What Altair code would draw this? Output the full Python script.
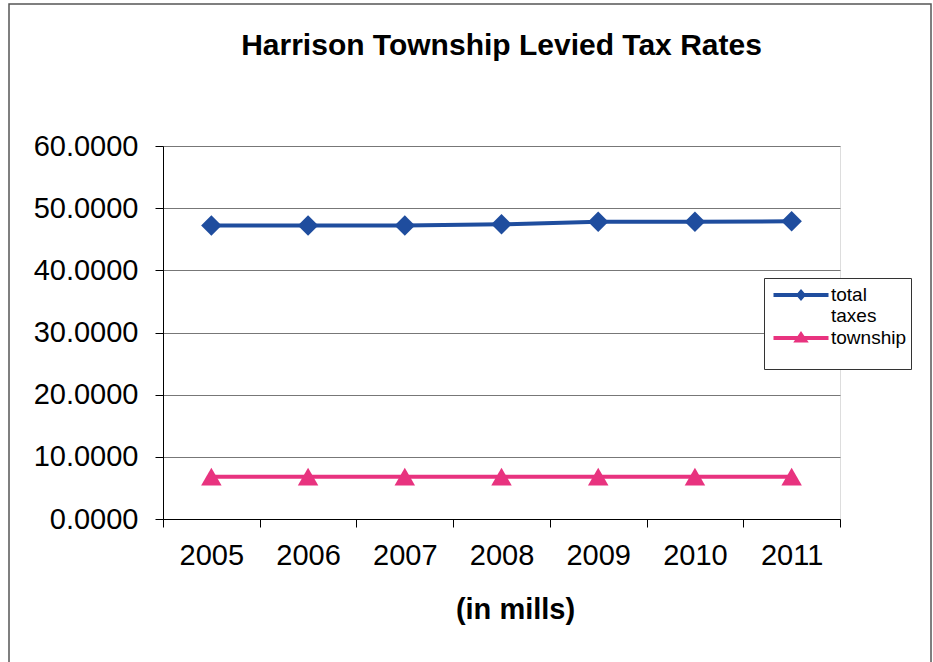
import altair as alt
import pandas as pd

years = ["2005", "2006", "2007", "2008", "2009", "2010", "2011"]
total_taxes = [47.2, 47.2, 47.2, 47.4, 47.8, 47.8, 47.9]
township = [6.8, 6.8, 6.8, 6.8, 6.8, 6.8, 6.8]
series_names = ["total taxes", "township"]
series_colors = ["#1f4d9e", "#e8337f"]

rows = []
for y, v in zip(years, total_taxes):
    rows.append({"year": y, "value": v, "series": series_names[0]})
for y, v in zip(years, township):
    rows.append({"year": y, "value": v, "series": series_names[1]})
df = pd.DataFrame(rows)

FONT = "Liberation Sans"
DIAMOND = "M-2.75,0L2.75,0M0,-0.3L0.25,0L0,0.3L-0.25,0Z"
TRIANGLE = "M-2.75,0L2.75,0M0,-0.35L0.4,0.25L-0.4,0.25Z"

color_scale = alt.Scale(domain=series_names, range=series_colors)

x_enc = alt.X(
    "year:N",
    title="(in mills)",
    sort=years,
    axis=alt.Axis(
        labelAngle=0, labelFontSize=29, labelFont=FONT, labelColor="black",
        titleFontSize=29, titleFont=FONT, titleFontWeight="bold", titleColor="black",
        titleX=352, titleAlign="center", titlePadding=25,
        tickBand="extent", ticks=True, tickSize=8, tickColor="black",
        domainColor="black", labelPadding=14, grid=False,
    ),
)
y_enc = alt.Y(
    "value:Q",
    title=None,
    scale=alt.Scale(domain=[0, 60], nice=False),
    axis=alt.Axis(
        values=[0, 10, 20, 30, 40, 50, 60], format=".4f",
        labelFontSize=29, labelFont=FONT, labelColor="black",
        tickSize=8, tickColor="black", domainColor="black", labelPadding=17,
        grid=True, gridColor="#777777", gridWidth=1,
    ),
)

lines = alt.Chart(df).mark_line(strokeWidth=4).encode(
    x=x_enc,
    y=y_enc,
    color=alt.Color("series:N", scale=color_scale, legend=None),
)

points = alt.Chart(df).mark_point(filled=True, opacity=1, size=420).encode(
    x=alt.X("year:N", sort=years),
    y="value:Q",
    color=alt.Color("series:N", scale=color_scale, legend=None),
    shape=alt.Shape("series:N", scale=alt.Scale(domain=series_names, range=["diamond", "triangle-up"]), legend=None),
)

legend_cfg = alt.Legend(
    title=" ", titleOrient="bottom", titleFontSize=12, titlePadding=4,
    orient="none", legendX=601, legendY=132,
    direction="vertical",
    labelFont=FONT, labelFontSize=19, labelColor="black",
    symbolSize=400, symbolStrokeWidth=4, symbolOpacity=1,
    symbolOffset=20, labelOffset=18,
    strokeColor="#333333", fillColor="white", padding=5,
    labelExpr="datum.label == 'total taxes' ? ['total', 'taxes'] : datum.label",
    rowPadding=-1,
)

legend_layer = alt.Chart(df).transform_filter("false").mark_point(
    filled=True, opacity=1, strokeWidth=4
).encode(
    x=alt.X("year:N", sort=years),
    y="value:Q",
    color=alt.Color("series:N", scale=color_scale, legend=legend_cfg),
    stroke=alt.Stroke("series:N", scale=color_scale, legend=legend_cfg),
    shape=alt.Shape("series:N", scale=alt.Scale(domain=series_names, range=[DIAMOND, TRIANGLE]), legend=legend_cfg),
)

frame = alt.Chart(alt.Data(values=[{"a": 1}])).mark_rect(filled=False, stroke="#555555", strokeWidth=1.5).encode(
    x=alt.value(-154), x2=alt.value(768), y=alt.value(-142), y2=alt.value(518)
)

chart = alt.layer(lines, points, legend_layer, frame).resolve_scale(
    color="independent", stroke="independent", shape="independent"
).properties(
    width=677,
    height=373,
    title=alt.TitleParams(
        "Harrison Township Levied Tax Rates",
        font=FONT, fontSize=30, fontWeight="bold", color="black",
        anchor="middle", offset=-82, baseline="alphabetic",
    ),
    padding={"left": 163, "top": 146, "right": 93, "bottom": 143},
    autosize=alt.AutoSizeParams(type="none"),
).configure_view(stroke="#555555", strokeWidth=1).configure(background="white")

chart.save("out.html", embed_options={"renderer": "svg", "actions": False})
